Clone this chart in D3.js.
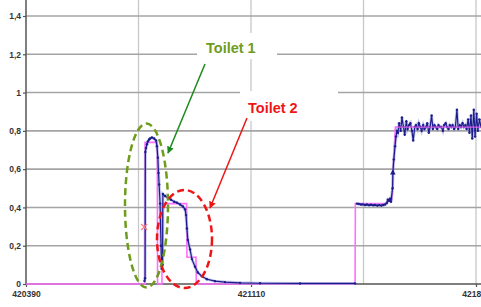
<!DOCTYPE html>
<html><head><meta charset="utf-8">
<script src="https://cdn.jsdelivr.net/npm/d3@7"></script>
<style>html,body{margin:0;padding:0;background:#fff;}svg{display:block;}</style>
</head><body>
<svg id="c" width="481" height="307"></svg>
<script>
// ---- data ----
const yTicks = [0, 0.2, 0.4, 0.6, 0.8, 1, 1.2, 1.4];
const yTickLabels = ["0", "0,2", "0,4", "0,6", "0,8", "1", "1,2", "1,4"];
const xTicks = [420390, 421110, 421830];
const xTickLabels = ["420390", "421110", "421830"];
const xGrid = [420750, 421110, 421470, 421830];

// blue measured series, toilet events
const blueX1 = [420769, 420771, 420772, 420774, 420777, 420780, 420784, 420787, 420793, 420800, 420806, 420809, 420812, 420814, 420816, 420819, 420822, 420824, 420827, 420828, 420835, 420844, 420854, 420864, 420873, 420883, 420892, 420899, 420902, 420905, 420908, 420915, 420921, 420931, 420940, 420953, 420969, 420995, 421027, 421075, 421139, 421267, 421443];
const blueY1 = [0.016, 0.03, 0.69, 0.71, 0.73, 0.745, 0.755, 0.76, 0.765, 0.76, 0.75, 0.72, 0.66, 0.58, 0.52, 0.42, 0.2, 0.08, 0.1, 0.47, 0.46, 0.45, 0.44, 0.43, 0.425, 0.415, 0.405, 0.39, 0.36, 0.29, 0.23, 0.18, 0.13, 0.09, 0.06, 0.04, 0.025, 0.015, 0.01, 0.006, 0.004, 0.003, 0.003];
// blue measured series, second phase
const blueX2 = [421449, 421455, 421462, 421468, 421475, 421481, 421488, 421494, 421501, 421507, 421514, 421520, 421527, 421533, 421539, 421545, 421548, 421552, 421555, 421558, 421563, 421564, 421567, 421571, 421574, 421577,
  421580, 421584, 421589, 421593, 421598, 421602, 421607, 421611, 421616, 421620, 421625, 421629, 421634, 421638, 421643, 421647, 421652, 421656, 421661, 421665, 421670, 421674, 421679, 421683, 421688, 421692, 421697, 421701, 421706, 421710, 421715, 421719, 421724, 421728, 421733, 421737, 421742, 421746, 421751, 421755, 421760, 421764, 421769, 421773, 421778, 421782, 421787, 421791, 421796, 421800, 421805, 421809, 421814, 421818, 421823, 421827, 421832, 421836, 421841, 421846];
const blueY2 = [0.42, 0.418, 0.415, 0.416, 0.413, 0.415, 0.412, 0.414, 0.411, 0.413, 0.41, 0.412, 0.41, 0.413, 0.415, 0.425, 0.44, 0.435, 0.445, 0.43, 0.5, 0.58, 0.65, 0.72, 0.77, 0.8,
  0.79, 0.84, 0.80, 0.87, 0.82, 0.78, 0.85, 0.81, 0.83, 0.84, 0.80, 0.75, 0.82, 0.83, 0.81, 0.84, 0.82, 0.80, 0.83, 0.81, 0.82, 0.84, 0.79, 0.82, 0.88, 0.81, 0.83, 0.82, 0.81, 0.83, 0.82, 0.82, 0.80, 0.83, 0.84, 0.82, 0.81, 0.83, 0.82, 0.83, 0.81, 0.82, 0.91, 0.81, 0.83, 0.82, 0.84, 0.82, 0.83, 0.81, 0.86, 0.79, 0.88, 0.76, 0.91, 0.77, 0.89, 0.80, 0.86, 0.82];
// pink modelled series (vertices)
const pinkX = [420390, 420771, 420771, 420810, 420811, 420825, 420826, 420904, 420905, 420934, 420935, 421443, 421444, 421546, 421547, 421561, 421563, 421564, 421572, 421846];
const pinkY = [0, 0, 0.74, 0.74, 0, 0, 0.42, 0.42, 0.14, 0.14, 0, 0, 0.42, 0.42, 0.44, 0.44, 0.5, 0.58, 0.82, 0.82];
const markX = [420768];
const markY = [0.298];

// ---- chart ----
const svg = d3.select("#c");
const x = d3.scaleLinear().domain([420390, 421830]).range([26, 476]);
const y = d3.scaleLinear().domain([0, 1.4]).range([284, 16]);

// grid
svg.append("g").selectAll("line").data(xGrid).join("line")
  .attr("x1", d => x(d)).attr("x2", d => x(d)).attr("y1", 0).attr("y2", 284)
  .attr("stroke", "#c8c8c8").attr("stroke-width", 1.3);
svg.append("g").selectAll("line").data(yTicks.slice(1)).join("line")
  .attr("x1", 26).attr("x2", 481).attr("y1", d => y(d)).attr("y2", d => y(d))
  .attr("stroke", "#a4a4a4").attr("stroke-width", 1.6);

// label boxes (hide grid)
svg.append("rect").attr("x", 197).attr("y", 33).attr("width", 80).attr("height", 26).attr("fill", "#fff");
svg.append("rect").attr("x", 240).attr("y", 91).attr("width", 98).attr("height", 30).attr("fill", "#fff");

// axes
const yAxis = svg.append("g").attr("transform", "translate(26,0)")
  .call(d3.axisLeft(y).tickValues(yTicks).tickFormat((d, i) => yTickLabels[i]).tickSize(3).tickPadding(2));
const xAxis = svg.append("g").attr("transform", "translate(0,284)")
  .call(d3.axisBottom(x).tickValues(xTicks).tickFormat((d, i) => xTickLabels[i]).tickSize(3).tickPadding(4));
[yAxis, xAxis].forEach(g => {
  g.select(".domain").remove();
  g.selectAll(".tick line").attr("stroke", "#555").attr("stroke-width", 1.2);
  g.selectAll("text").attr("font-family", "Liberation Sans, Arial, sans-serif")
    .attr("font-weight", "bold").attr("font-size", "8.5px").attr("fill", "#333");
});
svg.append("line").attr("x1", 26).attr("x2", 26).attr("y1", 0).attr("y2", 284).attr("stroke", "#555").attr("stroke-width", 1.5);
svg.append("line").attr("x1", 26).attr("x2", 481).attr("y1", 284).attr("y2", 284).attr("stroke", "#555").attr("stroke-width", 1.5);

// series
const line = d3.line().x(d => x(d[0])).y(d => y(d[1]));
const pink = pinkX.map((v, i) => [v, pinkY[i]]);
const b1 = blueX1.map((v, i) => [v, blueY1[i]]);
const b2 = blueX2.map((v, i) => [v, blueY2[i]]);

svg.append("path").attr("d", line(pink)).attr("fill", "none").attr("stroke", "#ff70ff").attr("stroke-width", 1.6);
[b1, b2].forEach(b => {
  svg.append("path").attr("d", line(b)).attr("fill", "none").attr("stroke", "#8e94d8").attr("stroke-width", 3).attr("opacity", 0.5);
  svg.append("path").attr("d", line(b)).attr("fill", "none").attr("stroke", "#1c1c8c").attr("stroke-width", 1.2);
  svg.append("g").selectAll("circle").data(b).join("circle")
    .attr("cx", d => x(d[0])).attr("cy", d => y(d[1])).attr("r", 1.2).attr("fill", "#1c1c8c");
});
// pink line overlay in the noisy part
svg.append("path").attr("d", line(pink.slice(-2))).attr("fill", "none").attr("stroke", "#ff70ff").attr("stroke-width", 1.2).attr("opacity", 0.8);
// triangle marker
svg.append("path").attr("d", d3.symbol(d3.symbolTriangle, 14)())
  .attr("transform", `translate(${x(421564)},${y(0.58)})`).attr("fill", "#1c1c8c");
// red x marker
markX.forEach((v, i) => {
  const cx = x(v), cy = y(markY[i]);
  svg.append("path").attr("d", `M${cx-3},${cy-3}L${cx+3},${cy+3}M${cx-3},${cy+3}L${cx+3},${cy-3}`)
    .attr("stroke", "#ff8080").attr("stroke-width", 1.2);
});

// annotations
svg.append("ellipse").attr("cx", 146.5).attr("cy", 205.5).attr("rx", 21.5).attr("ry", 82)
  .attr("fill", "none").attr("stroke", "#6e9c1c").attr("stroke-width", 2.5).attr("stroke-dasharray", "7,4");
svg.append("ellipse").attr("cx", 184.5).attr("cy", 239).attr("rx", 27.5).attr("ry", 49)
  .attr("fill", "none").attr("stroke", "#ee1515").attr("stroke-width", 2.5).attr("stroke-dasharray", "7,4");

const defs = svg.append("defs");
[["ag", "#1a8a1a"], ["ar", "#ee1515"]].forEach(([id, c]) => {
  defs.append("marker").attr("id", id).attr("viewBox", "0 0 10 10").attr("refX", 9).attr("refY", 5)
    .attr("markerWidth", 7).attr("markerHeight", 7).attr("orient", "auto").attr("markerUnits", "userSpaceOnUse")
    .append("path").attr("d", "M0,0L10,5L0,10z").attr("fill", c);
});
svg.append("line").attr("x1", 205).attr("y1", 64).attr("x2", 168).attr("y2", 153)
  .attr("stroke", "#1a8a1a").attr("stroke-width", 1.5).attr("marker-end", "url(#ag)");
svg.append("line").attr("x1", 247).attr("y1", 118).attr("x2", 210).attr("y2", 208)
  .attr("stroke", "#ee1515").attr("stroke-width", 1.5).attr("marker-end", "url(#ar)");

svg.append("text").attr("x", 206).attr("y", 53).text("Toilet 1")
  .attr("font-family", "Liberation Sans, Arial, sans-serif").attr("font-weight", "bold").attr("font-size", "14.5px").attr("fill", "#6e9c1c");
svg.append("text").attr("x", 248).attr("y", 113).text("Toilet 2")
  .attr("font-family", "Liberation Sans, Arial, sans-serif").attr("font-weight", "bold").attr("font-size", "14.5px").attr("fill", "#ee1515");
</script>
</body></html>
